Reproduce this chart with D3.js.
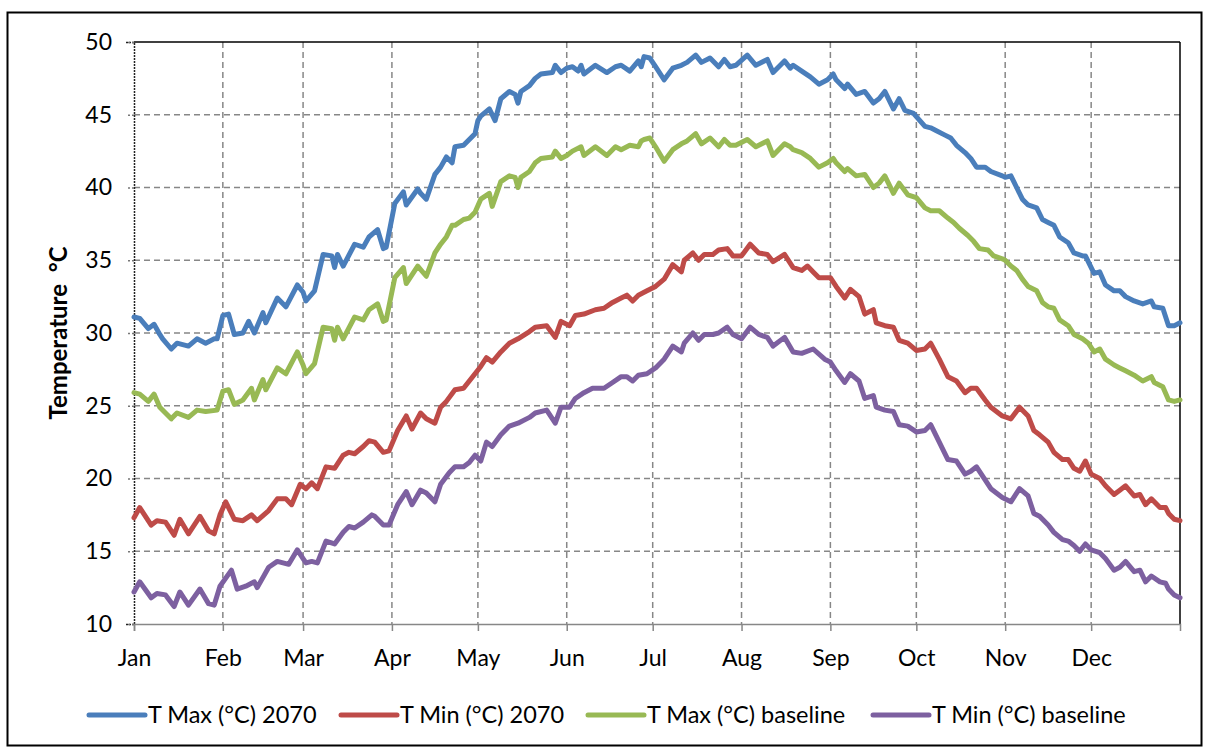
<!DOCTYPE html>
<html><head><meta charset="utf-8">
<script src="https://cdn.jsdelivr.net/npm/d3@7"></script>
<style>
html,body{margin:0;padding:0;background:#fff;}
text{font-family:Lato,"Open Sans",sans-serif;fill:#000;}
</style></head>
<body><svg id="chart" width="1206" height="749"></svg>
<script>
const monthLabels = ["Jan","Feb","Mar","Apr","May","Jun","Jul","Aug","Sep","Oct","Nov","Dec"];
const monthStartDays = [0,31,59,90,120,151,181,212,243,273,304,334];
const yTicks = [10,15,20,25,30,35,40,45,50];
const seriesNames = ["T Max (°C) 2070","T Min (°C) 2070","T Max (°C) baseline","T Min (°C) baseline"];
const seriesColors = ["#4A7EBB","#BE4B48","#98B954","#7D60A0"];

const tmax2070 = [[0,31.1],[2,31.0],[5,30.3],[7,30.6],[9,29.9],[10,29.6],[13,28.9],[15,29.3],[19,29.1],[22,29.6],[25,29.3],[28,29.6],[29,29.6],[31,31.2],[33,31.3],[35,29.9],[38,30.0],[40,30.8],[42,30.0],[45,31.4],[46,30.7],[50,32.4],[53,31.8],[57,33.3],[59,32.8],[60,32.2],[63,32.9],[66,35.4],[69,35.3],[70,34.5],[71,35.4],[73,34.6],[77,36.1],[80,35.9],[82,36.6],[85,37.1],[87,35.8],[88,35.9],[91,38.9],[94,39.7],[95,38.8],[99,39.9],[100,39.6],[102,39.2],[105,40.9],[107,41.4],[109,42.1],[111,41.7],[112,42.8],[115,42.9],[117,43.3],[119,43.7],[120,44.6],[121,44.9],[124,45.4],[126,44.6],[128,46.1],[131,46.6],[133,46.4],[134,45.8],[135,46.6],[138,47.0],[140,47.5],[142,47.8],[146,47.9],[147,48.4],[149,47.9],[151,48.2],[153,48.3],[155,48.0],[156,48.4],[157,47.8],[161,48.4],[165,47.9],[168,48.3],[170,48.4],[173,48.0],[176,48.7],[177,48.3],[178,49.0],[180,48.9],[182,48.3],[185,47.4],[188,48.2],[191,48.4],[193,48.6],[196,49.1],[198,48.6],[201,48.9],[204,48.3],[206,48.8],[208,48.3],[210,48.4],[214,49.1],[217,48.4],[221,48.8],[223,47.9],[227,48.7],[229,48.2],[230,48.4],[233,48.0],[236,47.6],[239,47.1],[242,47.4],[244,47.8],[245,47.4],[248,46.8],[249,47.1],[252,46.4],[255,46.6],[258,45.8],[260,46.1],[262,46.6],[265,45.4],[267,46.1],[269,45.3],[272,45.1],[276,44.2],[278,44.1],[280,43.9],[283,43.6],[285,43.4],[287,42.9],[290,42.4],[292,42.0],[294,41.4],[297,41.4],[299,41.1],[303,40.8],[304,40.7],[306,40.8],[308,40.0],[310,39.2],[312,38.8],[315,38.6],[317,37.8],[319,37.6],[321,37.4],[323,36.6],[326,36.2],[328,35.5],[331,35.3],[332,35.3],[335,34.1],[337,34.2],[339,33.3],[342,32.9],[344,32.9],[346,32.5],[349,32.2],[352,32.0],[355,32.2],[356,31.8],[359,31.7],[361,30.5],[363,30.5],[365,30.7]];

const tmin2070 = [[0,17.3],[2,18.0],[6,16.8],[8,17.1],[11,17.0],[14,16.1],[16,17.2],[19,16.2],[23,17.4],[26,16.4],[28,16.2],[30,17.5],[32,18.4],[35,17.2],[38,17.1],[41,17.5],[43,17.1],[47,17.8],[50,18.6],[53,18.6],[55,18.2],[58,19.6],[60,19.3],[62,19.7],[64,19.3],[67,20.8],[70,20.7],[73,21.6],[75,21.8],[77,21.7],[80,22.2],[82,22.6],[84,22.5],[87,21.8],[89,21.9],[92,23.3],[95,24.3],[97,23.4],[100,24.5],[102,24.1],[105,23.8],[107,24.9],[109,25.3],[112,26.1],[115,26.2],[117,26.7],[119,27.2],[121,27.7],[123,28.3],[125,28.0],[128,28.7],[131,29.3],[134,29.6],[138,30.1],[140,30.4],[144,30.5],[147,29.7],[149,30.8],[152,30.5],[154,31.2],[157,31.3],[161,31.6],[164,31.7],[167,32.1],[170,32.4],[172,32.6],[174,32.2],[176,32.6],[179,32.9],[182,33.2],[185,33.7],[188,34.7],[191,34.2],[192,35.0],[195,35.5],[197,35.0],[199,35.4],[202,35.4],[204,35.7],[207,35.8],[209,35.3],[212,35.3],[215,36.1],[218,35.5],[221,35.4],[223,34.9],[227,35.4],[230,34.5],[233,34.3],[235,34.6],[237,34.2],[239,33.8],[243,33.8],[245,33.2],[248,32.4],[250,33.0],[253,32.5],[255,31.3],[258,31.6],[259,30.7],[262,30.5],[265,30.4],[267,29.5],[270,29.3],[273,28.8],[276,28.9],[278,29.3],[281,28.2],[284,27.0],[287,26.7],[290,25.9],[292,26.2],[294,26.2],[297,25.4],[299,24.9],[303,24.3],[306,24.1],[309,24.9],[312,24.3],[314,23.3],[316,23.0],[319,22.5],[321,21.8],[324,21.3],[326,21.3],[328,20.7],[330,20.5],[332,21.2],[334,20.3],[337,20.0],[339,19.5],[342,18.9],[344,19.2],[346,19.5],[349,18.8],[351,18.9],[353,18.2],[355,18.6],[358,18.0],[360,18.0],[361,17.6],[363,17.2],[365,17.1]];

const tmaxBaseline = [[0,25.9],[2,25.8],[5,25.3],[7,25.8],[9,24.9],[13,24.1],[15,24.5],[19,24.2],[22,24.7],[25,24.6],[29,24.7],[31,26.0],[33,26.1],[35,25.1],[38,25.4],[41,26.2],[42,25.4],[45,26.8],[46,26.1],[50,27.6],[53,27.2],[57,28.7],[59,27.8],[60,27.2],[63,27.9],[66,30.4],[69,30.3],[70,29.5],[71,30.4],[73,29.6],[77,31.1],[80,30.9],[82,31.6],[85,32.0],[87,30.8],[88,30.9],[91,33.8],[94,34.5],[95,33.4],[99,34.6],[102,33.9],[105,35.5],[107,36.1],[109,36.6],[111,37.4],[112,37.4],[115,37.8],[117,37.9],[119,38.3],[121,39.2],[124,39.6],[125,38.7],[128,40.4],[131,40.8],[133,40.7],[134,40.0],[135,40.7],[138,41.1],[140,41.7],[142,42.0],[146,42.1],[147,42.5],[149,42.0],[151,42.2],[153,42.5],[156,42.8],[157,42.2],[161,42.8],[165,42.2],[168,42.8],[170,42.6],[173,42.9],[176,42.8],[177,43.2],[178,43.3],[180,43.4],[182,42.8],[185,41.8],[188,42.6],[191,43.0],[193,43.2],[196,43.7],[198,43.0],[201,43.4],[204,42.8],[206,43.3],[208,42.9],[210,42.9],[214,43.3],[217,42.8],[221,43.2],[223,42.2],[227,43.0],[229,42.8],[230,42.6],[233,42.4],[236,42.0],[239,41.4],[242,41.7],[244,42.0],[245,41.7],[248,41.1],[249,41.3],[252,40.8],[255,40.9],[258,40.0],[260,40.3],[262,40.8],[265,39.6],[267,40.3],[270,39.5],[273,39.3],[276,38.6],[278,38.4],[281,38.4],[284,37.9],[286,37.6],[288,37.2],[291,36.7],[293,36.3],[295,35.8],[298,35.7],[300,35.3],[303,35.1],[304,35.0],[306,34.6],[308,34.3],[310,33.7],[312,33.2],[315,32.9],[317,32.1],[319,31.8],[321,31.7],[323,30.9],[326,30.5],[328,29.9],[331,29.6],[333,29.3],[335,28.7],[337,28.9],[339,28.2],[342,27.8],[344,27.6],[346,27.4],[349,27.1],[352,26.7],[355,27.0],[356,26.6],[359,26.3],[361,25.4],[363,25.3],[365,25.4]];

const tminBaseline = [[0,12.2],[2,12.9],[6,11.8],[8,12.1],[11,12.0],[14,11.2],[16,12.2],[19,11.3],[23,12.4],[26,11.4],[28,11.3],[30,12.6],[34,13.7],[36,12.4],[39,12.6],[42,12.9],[43,12.5],[47,13.9],[50,14.3],[54,14.1],[57,15.1],[59,14.5],[60,14.2],[62,14.3],[64,14.2],[67,15.7],[70,15.5],[73,16.3],[75,16.7],[77,16.6],[80,17.0],[83,17.5],[84,17.4],[87,16.8],[89,16.8],[92,18.2],[95,19.1],[97,18.2],[100,19.2],[102,19.0],[105,18.4],[107,19.6],[110,20.4],[112,20.8],[115,20.8],[117,21.1],[119,21.6],[121,21.2],[123,22.5],[125,22.2],[128,23.0],[131,23.6],[134,23.8],[138,24.2],[140,24.5],[144,24.7],[147,23.8],[149,24.9],[152,24.9],[154,25.5],[157,25.9],[160,26.2],[164,26.2],[167,26.6],[170,27.0],[172,27.0],[174,26.7],[176,27.1],[179,27.2],[182,27.6],[185,28.2],[188,29.1],[191,28.7],[192,29.3],[195,30.0],[197,29.5],[199,29.9],[202,29.9],[204,30.0],[207,30.4],[209,29.9],[212,29.6],[215,30.4],[218,29.9],[221,29.7],[223,29.1],[227,29.7],[230,28.7],[233,28.6],[237,28.9],[241,28.2],[243,28.0],[245,27.4],[248,26.6],[250,27.2],[253,26.7],[255,25.5],[258,25.7],[259,24.9],[262,24.7],[265,24.6],[267,23.7],[270,23.6],[273,23.2],[276,23.3],[278,23.7],[281,22.5],[284,21.3],[287,21.2],[290,20.3],[292,20.5],[294,20.8],[297,19.9],[299,19.3],[303,18.7],[306,18.4],[309,19.3],[312,18.8],[314,17.6],[316,17.4],[319,16.8],[321,16.3],[324,15.8],[326,15.7],[328,15.4],[330,15.0],[332,15.5],[334,15.1],[337,14.9],[339,14.5],[342,13.7],[344,13.9],[346,14.3],[349,13.6],[351,13.7],[353,12.9],[355,13.3],[358,12.9],[360,12.8],[361,12.4],[363,12.0],[365,11.8]];

const seriesData = [tmax2070, tmin2070, tmaxBaseline, tminBaseline];

const svg = d3.select("#chart");
const W = 1206, H = 749;
const plot = {left:134, right:1180, top:42, bottom:624};

svg.append("rect").attr("x",0).attr("y",0).attr("width",W).attr("height",H).attr("fill","#fff");
svg.append("rect").attr("x",7.5).attr("y",12.5).attr("width",1194).attr("height",733)
  .attr("fill","none").attr("stroke","#000").attr("stroke-width",2);

const x = d3.scaleLinear().domain([0,365]).range([plot.left, plot.right]);
const y = d3.scaleLinear().domain([10,50]).range([plot.bottom, plot.top]);

const grid = svg.append("g");
grid.selectAll("line.h").data(yTicks.filter(t => t>10 && t<50)).join("line")
  .attr("x1",plot.left).attr("x2",plot.right)
  .attr("y1",d=>y(d)).attr("y2",d=>y(d))
  .attr("stroke","#878787").attr("stroke-width",1.5).attr("stroke-dasharray","6,4");
grid.selectAll("line.v").data(monthStartDays.slice(1)).join("line")
  .attr("x1",d=>x(d)).attr("x2",d=>x(d))
  .attr("y1",plot.top).attr("y2",plot.bottom)
  .attr("stroke","#878787").attr("stroke-width",1.5).attr("stroke-dasharray","6,4");

svg.append("line").attr("x1",plot.left).attr("x2",plot.right).attr("y1",plot.top).attr("y2",plot.top)
  .attr("stroke","#000").attr("stroke-width",1.5);
svg.append("line").attr("x1",plot.right).attr("x2",plot.right).attr("y1",plot.top).attr("y2",plot.bottom)
  .attr("stroke","#000").attr("stroke-width",1.5);

const yAxis = d3.axisLeft(y).tickValues(yTicks).tickSize(8).tickPadding(14).tickFormat(d3.format("d"));
const gy = svg.append("g").attr("transform",`translate(${plot.left},0)`).call(yAxis);
gy.select(".domain").attr("stroke","#222").attr("stroke-width",1.5).attr("stroke-dasharray","2,1");
gy.selectAll(".tick line").attr("stroke","#777").attr("stroke-width",1.5).attr("stroke-dasharray","2,2");
gy.selectAll(".tick text").attr("font-size",23).attr("font-family","Lato, sans-serif").attr("fill","#000");

const xAxis = d3.axisBottom(x).tickValues(monthStartDays).tickSize(7).tickPadding(19)
  .tickFormat((d,i)=>monthLabels[i]);
const gx = svg.append("g").attr("transform",`translate(0,${plot.bottom})`).call(xAxis);
gx.select(".domain").attr("stroke","#878787").attr("stroke-width",1.5);
gx.selectAll(".tick line").attr("stroke","#878787").attr("stroke-width",1.5);
gx.selectAll(".tick text").attr("font-size",23).attr("font-family","Lato, sans-serif").attr("fill","#000");

svg.append("text").attr("transform",`translate(67,${(plot.top+plot.bottom)/2}) rotate(-90)`)
  .attr("text-anchor","middle").attr("font-size",24).attr("font-weight","bold")
  .attr("xml:space","preserve").style("white-space","pre")
  .text("Temperature  °C");

const line = d3.line().x(d=>x(d[0])).y(d=>y(d[1])).curve(d3.curveLinear);
svg.append("g").selectAll("path").data(seriesData).join("path")
  .attr("d",line).attr("fill","none")
  .attr("stroke",(d,i)=>seriesColors[i]).attr("stroke-width",5)
  .attr("stroke-linejoin","round").attr("stroke-linecap","round");

const legendX = [89, 341, 588, 873];
const lg = svg.append("g");
seriesNames.forEach((name,i)=>{
  lg.append("line").attr("x1",legendX[i]).attr("x2",legendX[i]+56).attr("y1",715).attr("y2",715)
    .attr("stroke",seriesColors[i]).attr("stroke-width",5).attr("stroke-linecap","round");
  lg.append("text").attr("x",legendX[i]+59).attr("y",723).attr("font-size",23.5).text(name);
});
</script>
</body></html>
